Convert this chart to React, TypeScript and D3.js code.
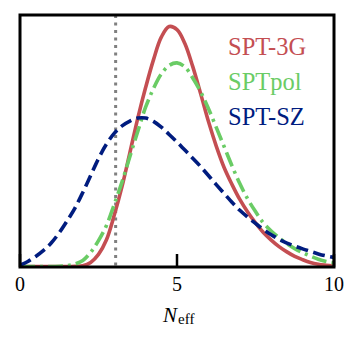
import React, { useEffect, useRef } from "react";
import * as d3 from "d3";

// N_eff grid and posterior curves (relative height)
const neff = [
  0, 0.25, 0.5, 0.75, 1, 1.25, 1.5, 1.75, 2, 2.25, 2.5, 2.75, 3, 3.25, 3.5, 3.75,
  4, 4.25, 4.5, 4.75, 5, 5.25, 5.5, 5.75, 6, 6.25, 6.5, 6.75, 7, 7.25, 7.5, 7.75,
  8, 8.25, 8.5, 8.75, 9, 9.25, 9.5, 9.75, 10,
];

const spt3g = [
  0, 0, 0, 0, 0, 0, 0, 0.001, 0.003, 0.016, 0.048, 0.105, 0.203, 0.318, 0.452, 0.588,
  0.71, 0.82, 0.91, 0.952, 0.94, 0.885, 0.794, 0.687, 0.576, 0.478, 0.393, 0.326, 0.266, 0.216, 0.173, 0.135,
  0.105, 0.079, 0.058, 0.04, 0.027, 0.016, 0.009, 0.005, 0.002,
];

const sptpol = [
  0, 0, 0, 0, 0, 0.001, 0.003, 0.01, 0.024, 0.056, 0.103, 0.162, 0.246, 0.336, 0.437, 0.536,
  0.632, 0.706, 0.764, 0.798, 0.808, 0.792, 0.748, 0.694, 0.627, 0.552, 0.476, 0.4, 0.329, 0.268, 0.218, 0.173,
  0.141, 0.114, 0.091, 0.071, 0.055, 0.041, 0.029, 0.02, 0.014,
];

const sptsz = [
  0.005, 0.02, 0.04, 0.064, 0.094, 0.134, 0.181, 0.232, 0.294, 0.361, 0.428, 0.485, 0.528, 0.558, 0.577, 0.589,
  0.589, 0.576, 0.553, 0.524, 0.494, 0.462, 0.43, 0.397, 0.361, 0.325, 0.29, 0.255, 0.223, 0.196, 0.171, 0.147,
  0.126, 0.108, 0.093, 0.081, 0.07, 0.06, 0.05, 0.042, 0.036,
];

const neffStandard = 3.046;
const xTicks = [0, 5, 10];

const series = [
  { name: "SPT-3G", values: spt3g, color: "#c44e52", dash: null },
  { name: "SPTpol", values: sptpol, color: "#6acc65", dash: "15,5,3,5" },
  { name: "SPT-SZ", values: sptsz, color: "#001c7f", dash: "12,5.5" },
];

const App = () => {
  const svgRef = useRef<SVGSVGElement>(null);

  useEffect(() => {
    const width = 359;
    const height = 345;
    const left = 20, right = 334, top = 15, bottom = 267;
    const font = "'Liberation Serif', 'DejaVu Serif', serif";

    const svg = d3.select(svgRef.current);
    svg.selectAll("*").remove();
    svg.attr("width", width).attr("height", height);

    const x = d3.scaleLinear().domain([0, 10]).range([left, right]);
    const y = d3.scaleLinear().domain([0, 1]).range([bottom - 0.5, top - 0.5]);

    const clip = svg.append("defs").append("clipPath").attr("id", "plotClip");
    clip.append("rect")
      .attr("x", left).attr("y", top)
      .attr("width", right - left).attr("height", bottom - top);

    const plot = svg.append("g").attr("clip-path", "url(#plotClip)");

    // standard model value
    plot.append("line")
      .attr("x1", x(neffStandard)).attr("x2", x(neffStandard))
      .attr("y1", top).attr("y2", bottom)
      .attr("stroke", "#808080")
      .attr("stroke-width", 3)
      .attr("stroke-dasharray", "3,4.5");

    const line = d3.line<number>()
      .x((_, i) => x(neff[i]))
      .y(d => y(d))
      .curve(d3.curveCatmullRom.alpha(0.5));

    series.forEach(s => {
      plot.append("path")
        .datum(s.values)
        .attr("d", line)
        .attr("fill", "none")
        .attr("stroke", s.color)
        .attr("stroke-width", 3.6)
        .attr("stroke-dasharray", s.dash)
        .attr("stroke-linejoin", "round");
    });

    // frame
    svg.append("rect")
      .attr("x", left).attr("y", top)
      .attr("width", right - left).attr("height", bottom - top)
      .attr("fill", "none")
      .attr("stroke", "#000")
      .attr("stroke-width", 3);

    // x ticks (inward)
    xTicks.forEach(t => {
      svg.append("line")
        .attr("x1", x(t)).attr("x2", x(t))
        .attr("y1", bottom).attr("y2", bottom - 13)
        .attr("stroke", "#000")
        .attr("stroke-width", 2.5);
      svg.append("text")
        .attr("x", x(t))
        .attr("y", 290.5)
        .attr("text-anchor", "middle")
        .attr("font-family", font)
        .attr("font-size", "20px")
        .attr("fill", "#000")
        .text(t);
    });

    // x label
    const xl = svg.append("text")
      .attr("x", 163)
      .attr("y", 321.5)
      .attr("font-family", font)
      .attr("fill", "#000");
    xl.append("tspan").attr("font-size", "21px").attr("font-style", "italic").text("N");
    xl.append("tspan").attr("font-size", "15px").attr("dy", 2).attr("dx", 1).text("eff");

    // legend text
    series.forEach((s, i) => {
      svg.append("text")
        .attr("x", 228)
        .attr("y", 55 + i * 35)
        .attr("font-family", font)
        .attr("font-size", "24.5px")
        .attr("fill", s.color)
        .text(s.name);
    });
  }, []);

  return (
    <svg
      ref={svgRef}
      style={{ position: "absolute", left: 0, top: 0, background: "#fff" }}
      viewBox="0 0 359 345"
    />
  );
};

export default App;
